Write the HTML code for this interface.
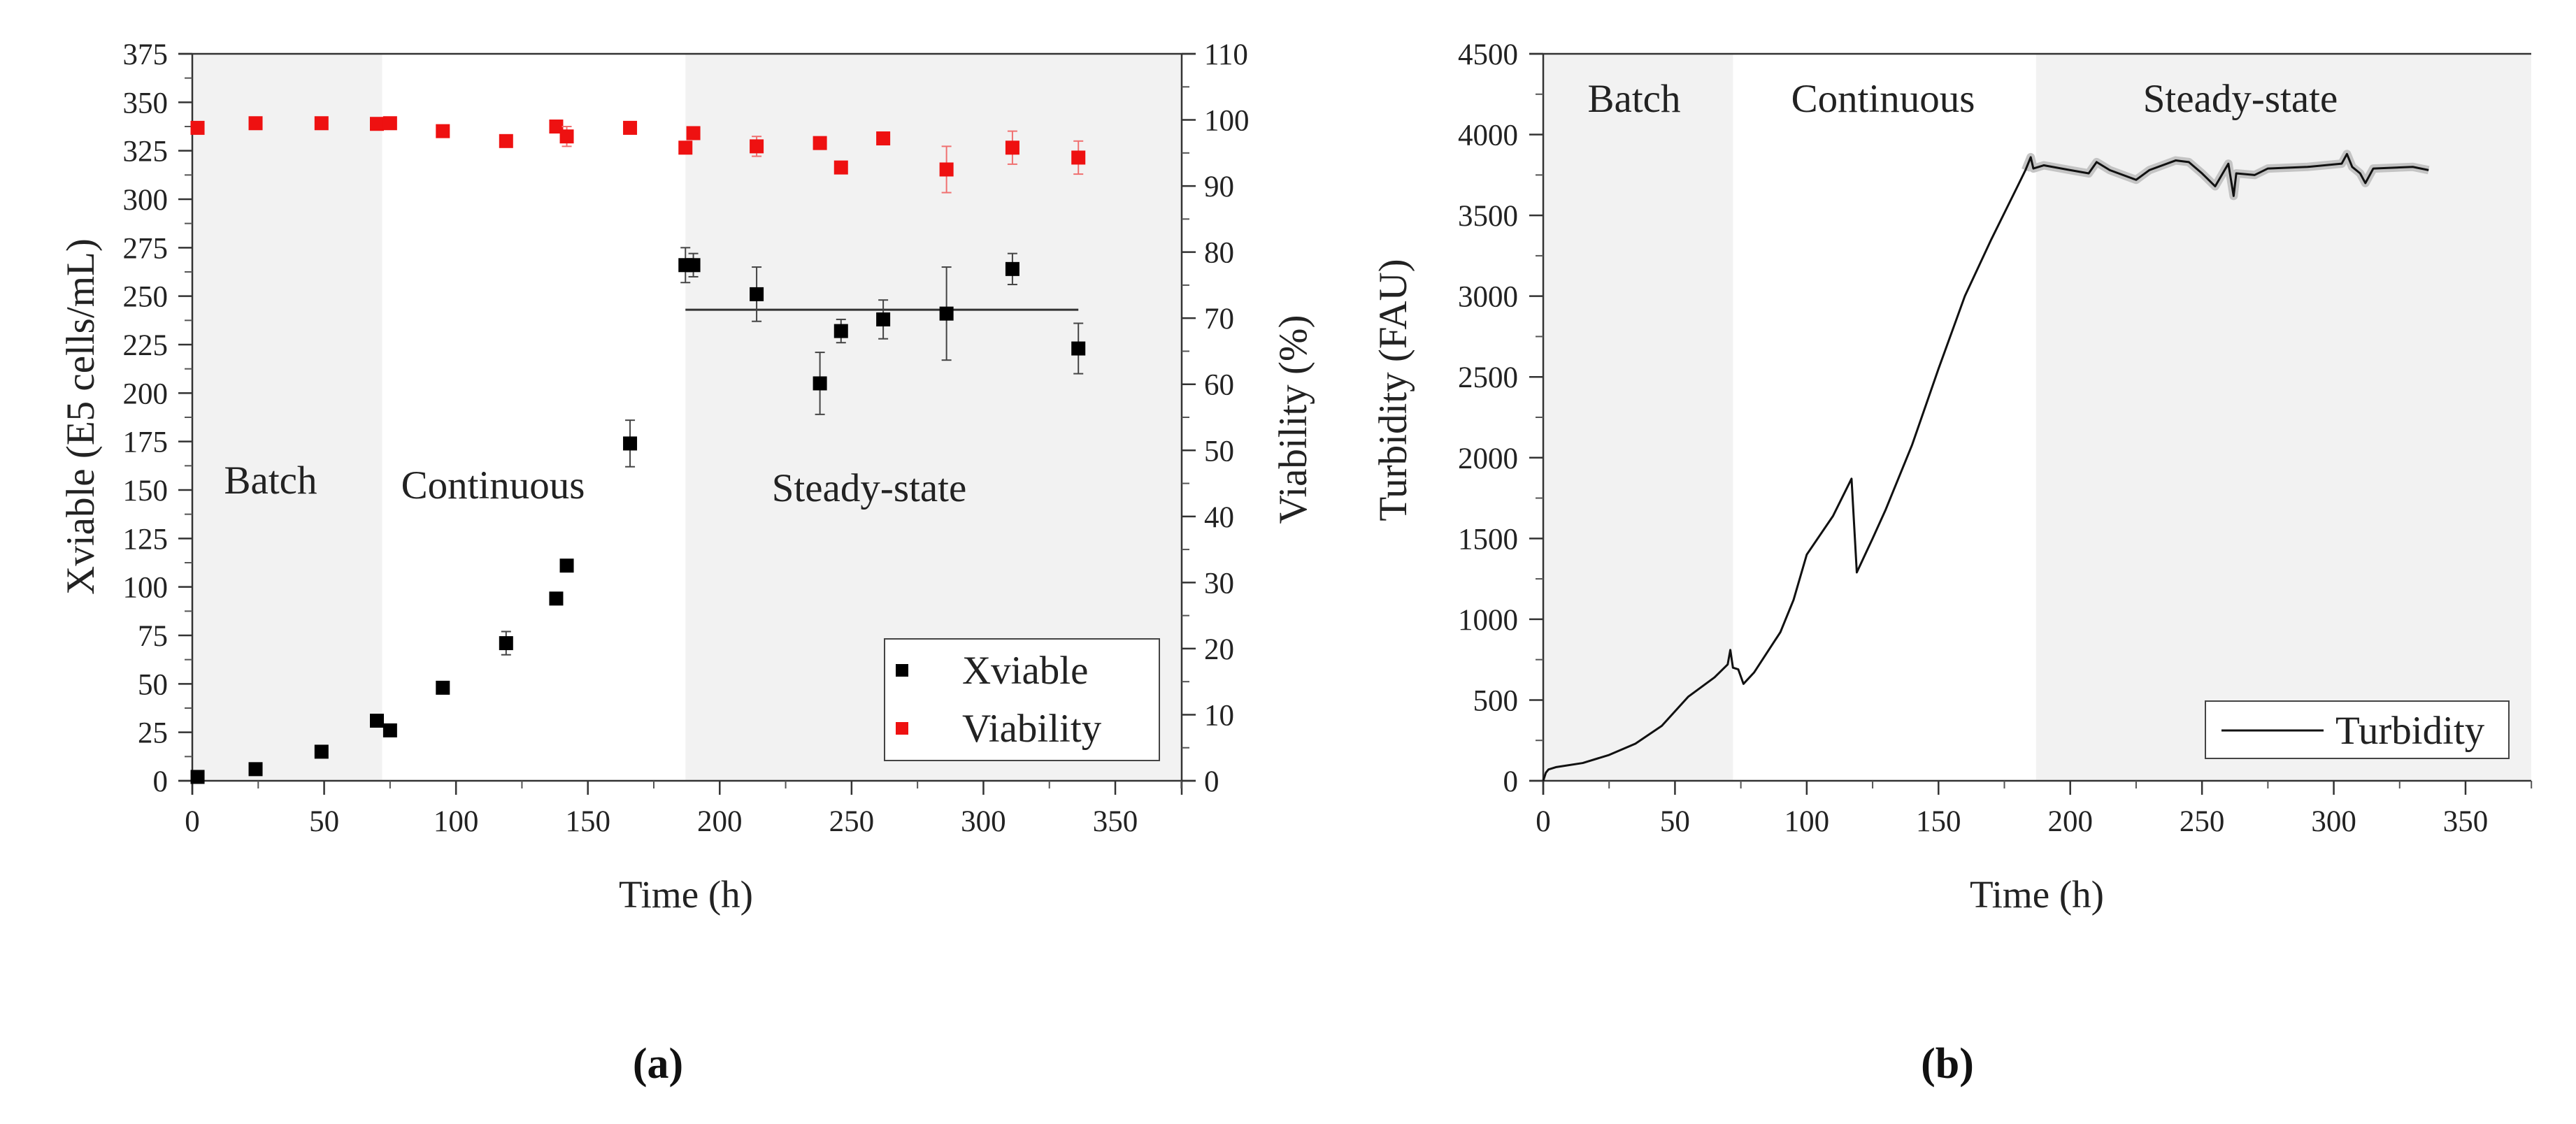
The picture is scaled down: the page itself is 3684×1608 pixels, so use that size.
<!DOCTYPE html>
<html><head><meta charset="utf-8">
<style>
html,body{margin:0;padding:0;background:#fff;}
svg{display:block;font-family:"Liberation Serif",serif;}
</style></head>
<body>
<svg id="fig" width="3684" height="1608" viewBox="0 0 3684 1608" xmlns="http://www.w3.org/2000/svg"></svg>
<script>
// ---------- Data: panel (a) ----------
const xvTime = [2,24,49,70,75,95,119,138,142,166,187,190,214,238,246,262,286,311,336];
const xvVal  = [2,6,15,31,26,48,71,94,111,174,266,266,251,205,232,238,241,264,223];
const xvErr  = [0,0,0,0,0,0,6,0,0,12,9,6,14,16,6,10,24,8,13];
const viTime = [2,24,49,70,75,95,119,138,142,166,187,190,214,238,246,262,286,311,336];
const viVal  = [98.8,99.5,99.5,99.4,99.5,98.3,96.8,99,97.5,98.8,95.8,98,96,96.5,92.8,97.2,92.5,95.8,94.3];
const viErr  = [0,0,0,0,0,0,0,0,1.5,0,0,0,1.5,0,0,0,3.5,2.5,2.5];
const ssMean = [243];
const ssRange = [187,336];
const phaseBounds = [72,187];
const leftTicks = [0,25,50,75,100,125,150,175,200,225,250,275,300,325,350,375];
const rightTicks = [0,10,20,30,40,50,60,70,80,90,100,110];
const timeTicks = [0,50,100,150,200,250,300,350];
// ---------- Data: panel (b) ----------
const tuTime = [0,1,2,5,15,25,35,45,55,65,70,71,72,74,76,80,90,95,100,110,117,119,125,130,140,150,160,170,180,183,185,186,190,200,207,210,215,225,230,240,245,250,255,260,262,263,270,275,290,303,305,307,310,312,315,330,336];
const tuVal  = [0,50,70,85,110,160,230,340,520,640,720,810,700,690,600,670,920,1120,1400,1640,1870,1290,1500,1680,2080,2550,3000,3350,3680,3780,3860,3790,3810,3780,3760,3830,3780,3720,3780,3840,3830,3760,3680,3820,3620,3760,3750,3790,3800,3820,3880,3800,3760,3700,3790,3800,3780];
const turbTicks = [0,500,1000,1500,2000,2500,3000,3500,4000,4500];

const NS="http://www.w3.org/2000/svg";
const svg=document.getElementById('fig');
function el(tag,attrs,parent){const e=document.createElementNS(NS,tag);for(const k in attrs)e.setAttribute(k,attrs[k]);(parent||svg).appendChild(e);return e;}
function txt(s,attrs,parent){const e=el('text',attrs,parent);e.textContent=s;return e;}

const TOP=77, BOT=1117;
const aX0=275, aX1=1690;
const ax=h=>aX0+h*(1595-275)/350;
const ayL=v=>BOT-v*(BOT-TOP)/375;
const ayR=v=>BOT-v*(BOT-TOP)/110;
const bX0=2207, bX1=3620;
const bx=h=>bX0+h*(3526-2207)/350;
const by=v=>BOT-v*(BOT-TOP)/4500;

// ---------- Panel A ----------
const gA=el('g',{});


let r=el('rect',{x:ax(0),y:TOP,width:ax(phaseBounds[0])-ax(0),height:BOT-TOP,fill:'#f2f2f2'},gA);

r=el('rect',{x:ax(phaseBounds[1]),y:TOP,width:aX1-ax(phaseBounds[1]),height:BOT-TOP,fill:'#f2f2f2'},gA);


let t=txt('Batch',{x:387,y:706,'font-size':57,'text-anchor':'middle',fill:'#222'},gA);

t=txt('Continuous',{x:705,y:713,'font-size':57,'text-anchor':'middle',fill:'#222'},gA);

t=txt('Steady-state',{x:1243,y:717,'font-size':57,'text-anchor':'middle',fill:'#222'},gA);


el('line',{x1:aX0-20,y1:BOT,x2:aX1+20,y2:BOT,stroke:'#333','stroke-width':2.5},gA);
el('line',{x1:aX0-20,y1:TOP,x2:aX1+20,y2:TOP,stroke:'#333','stroke-width':2.5},gA);
el('line',{x1:aX0,y1:TOP,x2:aX0,y2:BOT+20,stroke:'#333','stroke-width':2.5},gA);
el('line',{x1:aX1,y1:TOP,x2:aX1,y2:BOT+20,stroke:'#333','stroke-width':2.5},gA);

leftTicks.forEach(v=>{
  el('line',{x1:aX0-20,y1:ayL(v),x2:aX0,y2:ayL(v),stroke:'#333','stroke-width':2.5},gA);
  const tt=txt(String(v),{x:240,y:ayL(v)+15,'font-size':43,'text-anchor':'end',fill:'#222'},gA);
  
  
  if(v<375) el('line',{x1:aX0-11,y1:ayL(v+12.5),x2:aX0,y2:ayL(v+12.5),stroke:'#555','stroke-width':2},gA);
});
rightTicks.forEach(v=>{
  el('line',{x1:aX1,y1:ayR(v),x2:aX1+20,y2:ayR(v),stroke:'#333','stroke-width':2.5},gA);
  const tt=txt(String(v),{x:1722,y:ayR(v)+15,'font-size':43,'text-anchor':'start',fill:'#222'},gA);
  
  
  if(v<110) el('line',{x1:aX1,y1:ayR(v+5),x2:aX1+11,y2:ayR(v+5),stroke:'#555','stroke-width':2},gA);
});
timeTicks.forEach(v=>{
  el('line',{x1:ax(v),y1:BOT,x2:ax(v),y2:BOT+20,stroke:'#333','stroke-width':2.5},gA);
  el('line',{x1:ax(v+25),y1:BOT,x2:ax(v+25),y2:BOT+11,stroke:'#555','stroke-width':2},gA);
  const tt=txt(String(v),{x:ax(v),y:1189,'font-size':43,'text-anchor':'middle',fill:'#222'},gA);
  
  
});

t=txt('Xviable (E5 cells/mL)',{x:0,y:0,'font-size':57,'text-anchor':'middle',fill:'#222',transform:'translate(134,596) rotate(-90)'},gA);

t=txt('Viability (%)',{x:0,y:0,'font-size':57,'text-anchor':'middle',fill:'#222',transform:'translate(1868,600) rotate(-90)'},gA);

t=txt('Time (h)',{x:981,y:1298,'font-size':55,'text-anchor':'middle',fill:'#222'},gA);

t=txt('(a)',{x:941,y:1542,'font-size':62,'font-weight':'bold','text-anchor':'middle',fill:'#111'},gA);


let ln=el('line',{x1:ax(ssRange[0]),y1:ayL(ssMean[0]),x2:ax(ssRange[1]),y2:ayL(ssMean[0]),stroke:'#333','stroke-width':3},gA);


viTime.forEach((h,i)=>{
  const cx=ax(h), cy=ayR(viVal[i]);
  if(viErr[i]>0){
    el('line',{x1:cx,y1:ayR(viVal[i]+viErr[i]),x2:cx,y2:ayR(viVal[i]-viErr[i]),stroke:'#f07070','stroke-width':2},gA);
    el('line',{x1:cx-7,y1:ayR(viVal[i]+viErr[i]),x2:cx+7,y2:ayR(viVal[i]+viErr[i]),stroke:'#f07070','stroke-width':2},gA);
    el('line',{x1:cx-7,y1:ayR(viVal[i]-viErr[i]),x2:cx+7,y2:ayR(viVal[i]-viErr[i]),stroke:'#f07070','stroke-width':2},gA);
  }
  const m=el('rect',{x:cx-10,y:cy-10,width:20,height:20,fill:'#ee1111'},gA);
  
  
});
xvTime.forEach((h,i)=>{
  const cx=ax(h), cy=ayL(xvVal[i]);
  if(xvErr[i]>0){
    el('line',{x1:cx,y1:ayL(xvVal[i]+xvErr[i]),x2:cx,y2:ayL(xvVal[i]-xvErr[i]),stroke:'#444','stroke-width':2},gA);
    el('line',{x1:cx-7,y1:ayL(xvVal[i]+xvErr[i]),x2:cx+7,y2:ayL(xvVal[i]+xvErr[i]),stroke:'#444','stroke-width':2},gA);
    el('line',{x1:cx-7,y1:ayL(xvVal[i]-xvErr[i]),x2:cx+7,y2:ayL(xvVal[i]-xvErr[i]),stroke:'#444','stroke-width':2},gA);
  }
  const m=el('rect',{x:cx-10,y:cy-10,width:20,height:20,fill:'#000'},gA);
  
  
});

const lgA=el('g',{},gA);


el('rect',{x:1265,y:914,width:393,height:174,fill:'#fff',stroke:'#444','stroke-width':2},lgA);
el('rect',{x:1281,y:950,width:18,height:18,fill:'#000'},lgA);
el('rect',{x:1281,y:1033,width:18,height:18,fill:'#ee1111'},lgA);
t=txt('Xviable',{x:1376,y:978,'font-size':57,fill:'#222'},lgA);

t=txt('Viability',{x:1376,y:1061,'font-size':57,fill:'#222'},lgA);


// ---------- Panel B ----------
const gB=el('g',{});


r=el('rect',{x:bx(0),y:TOP,width:bx(phaseBounds[0])-bx(0),height:BOT-TOP,fill:'#f2f2f2'},gB);

r=el('rect',{x:bx(phaseBounds[1]),y:TOP,width:bX1-bx(phaseBounds[1]),height:BOT-TOP,fill:'#f2f2f2'},gB);


t=txt('Batch',{x:2337,y:160,'font-size':57,'text-anchor':'middle',fill:'#222'},gB);

t=txt('Continuous',{x:2693,y:160,'font-size':57,'text-anchor':'middle',fill:'#222'},gB);

t=txt('Steady-state',{x:3204,y:160,'font-size':57,'text-anchor':'middle',fill:'#222'},gB);


el('line',{x1:bX0-20,y1:BOT,x2:bX1,y2:BOT,stroke:'#333','stroke-width':2.5},gB);
el('line',{x1:bX0-20,y1:TOP,x2:bX1,y2:TOP,stroke:'#333','stroke-width':2.5},gB);
el('line',{x1:bX0,y1:TOP,x2:bX0,y2:BOT+20,stroke:'#333','stroke-width':2.5},gB);

turbTicks.forEach(v=>{
  el('line',{x1:bX0-20,y1:by(v),x2:bX0,y2:by(v),stroke:'#333','stroke-width':2.5},gB);
  const tt=txt(String(v),{x:2171,y:by(v)+15,'font-size':43,'text-anchor':'end',fill:'#222'},gB);
  
  
  if(v<4500) el('line',{x1:bX0-11,y1:by(v+250),x2:bX0,y2:by(v+250),stroke:'#555','stroke-width':2},gB);
});
timeTicks.forEach(v=>{
  el('line',{x1:bx(v),y1:BOT,x2:bx(v),y2:BOT+20,stroke:'#333','stroke-width':2.5},gB);
  el('line',{x1:bx(v+25),y1:BOT,x2:bx(v+25),y2:BOT+11,stroke:'#555','stroke-width':2},gB);
  const tt=txt(String(v),{x:bx(v),y:1189,'font-size':43,'text-anchor':'middle',fill:'#222'},gB);
  
  
});
t=txt('Turbidity (FAU)',{x:0,y:0,'font-size':57,'text-anchor':'middle',fill:'#222',transform:'translate(2011,558) rotate(-90)'},gB);

t=txt('Time (h)',{x:2913,y:1298,'font-size':55,'text-anchor':'middle',fill:'#222'},gB);

t=txt('(b)',{x:2785,y:1542,'font-size':62,'font-weight':'bold','text-anchor':'middle',fill:'#111'},gB);


let bandPts=[];
tuTime.forEach((h,i)=>{ if(h>=183) bandPts.push([bx(h),by(tuVal[i])]); });
const band=el('path',{d:'M'+bandPts.map(p=>p[0]+','+p[1]).join(' L'),fill:'none',stroke:'#c4c4c4','stroke-width':12,'stroke-linejoin':'round'},gB);


const tl=el('path',{d:'M'+tuTime.map((h,i)=>bx(h)+','+by(tuVal[i])).join(' L'),fill:'none',stroke:'#111','stroke-width':3,'stroke-linejoin':'round'},gB);



const lgB=el('g',{},gB);


el('rect',{x:3154,y:1003,width:434,height:82,fill:'#fff',stroke:'#444','stroke-width':2},lgB);
el('line',{x1:3177,y1:1045,x2:3323,y2:1045,stroke:'#111','stroke-width':3},lgB);
t=txt('Turbidity',{x:3340,y:1064,'font-size':57,fill:'#222'},lgB);

</script>
</body></html>
